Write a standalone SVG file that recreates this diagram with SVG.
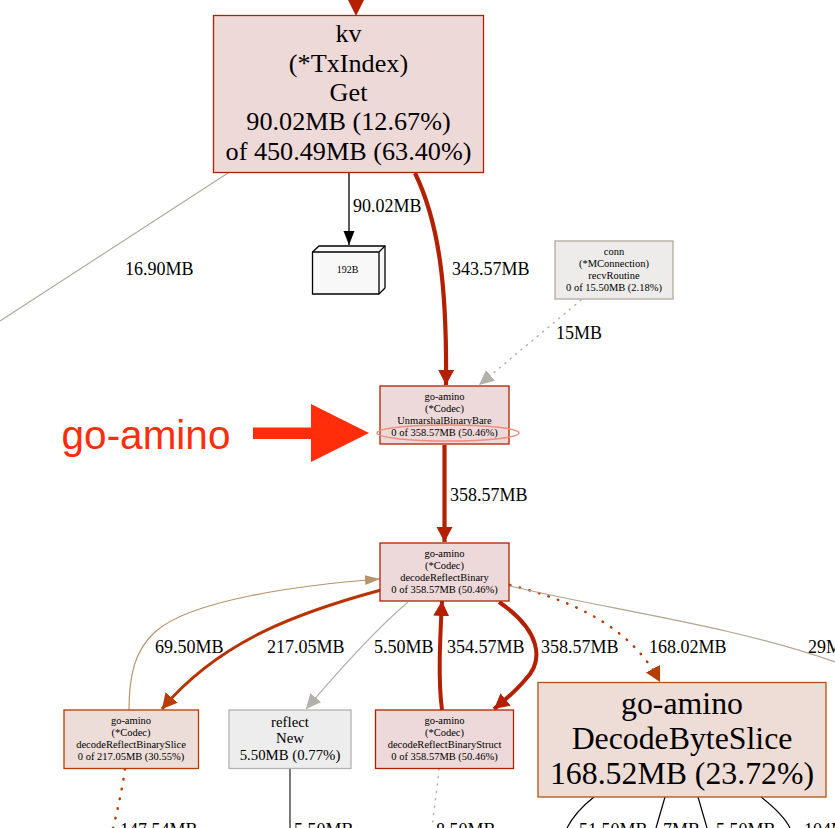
<svg xmlns="http://www.w3.org/2000/svg" width="835" height="828" viewBox="0 0 835 828">
<defs>
<marker id="ar" markerUnits="userSpaceOnUse" markerWidth="20" markerHeight="20" refX="15" refY="8" orient="auto"><path d="M0,0L15,8L0,16Z" fill="#b22000"/></marker>
<marker id="ao" markerUnits="userSpaceOnUse" markerWidth="20" markerHeight="20" refX="15" refY="8" orient="auto"><path d="M0,0L15,8L0,16Z" fill="#b83c00"/></marker>
<marker id="atan" markerUnits="userSpaceOnUse" markerWidth="16" markerHeight="12" refX="15" refY="5" orient="auto"><path d="M0,0L15,5L0,10Z" fill="#b8936a"/></marker>
<marker id="agr" markerUnits="userSpaceOnUse" markerWidth="18" markerHeight="16" refX="15" refY="7" orient="auto"><path d="M0,0L15,7L0,14Z" fill="#b2b2aa"/></marker>
<marker id="ak" markerUnits="userSpaceOnUse" markerWidth="16" markerHeight="14" refX="14" refY="5.5" orient="auto"><path d="M0,0L14,5.500L0,11Z" fill="#000"/></marker>
</defs>
<style>
text{font-family:"Liberation Serif","Times New Roman",serif;fill:#000;text-anchor:middle}
.l{font-size:18px;text-anchor:start}
.big{font-size:26.200px}
.huge{font-size:31.800px}
.s{font-size:10.500px}
.m{font-size:14.800px}
.n{stroke-width:1.300}
#connectors path{fill:none}
</style>
<rect width="835" height="828" fill="#fff"/>
<g id="connectors">
<path d="M356,0V4" stroke="#b22000" stroke-width="4"/>
<path d="M228,173L0,321" stroke="#b2ab9c" stroke-width="1.200"/>
<path d="M349,173V245" stroke="#000" stroke-width="1.300" marker-end="url(#ak)"/>
<path d="M415,173C440,225 447,290 446,385" stroke="#b22000" stroke-width="4.200" marker-end="url(#ar)"/>
<path d="M581,300L479,385" stroke="#b2b2aa" stroke-width="1.500" stroke-dasharray="1 6" stroke-linecap="round" marker-end="url(#agr)"/>
<path d="M444.500,445V542" stroke="#b22000" stroke-width="4.200" marker-end="url(#ar)"/>
<path d="M129,710C129,675 135,650 155,632C190,600 300,585 380,579" stroke="#b8936a" stroke-width="1.200" marker-end="url(#atan)"/>
<path d="M381,590C300,612 220,640 162,709" stroke="#b83200" stroke-width="3" marker-end="url(#ao)"/>
<path d="M408,602C375,630 335,675 306,709" stroke="#b2b2b2" stroke-width="1.200" marker-end="url(#agr)"/>
<path d="M442,710C438,680 440,640 442,601" stroke="#b22000" stroke-width="4" marker-end="url(#ar)"/>
<path d="M499,602C540,630 545,660 525,680C515,692 505,700 494,709" stroke="#b22000" stroke-width="4" marker-end="url(#ar)"/>
<path d="M510,585C570,600 630,625 660,682" stroke="#b83c00" stroke-width="2.500" stroke-dasharray="0.500 9.500" stroke-linecap="round" marker-end="url(#ao)"/>
<path d="M510,586C610,610 730,625 835,662" stroke="#b2a48e" stroke-width="1.200"/>
<path d="M125,769C122,790 118,808 113,828" stroke="#b83c00" stroke-width="2.500" stroke-dasharray="0.500 9.500" stroke-linecap="round"/>
<path d="M290,769V828" stroke="#333" stroke-width="1.300"/>
<path d="M439,769C437,790 434,808 432,828" stroke="#b2b2aa" stroke-width="1.500" stroke-dasharray="1 6.500" stroke-linecap="round"/>
<path d="M594,797C580,808 572,818 567,828" stroke="#000" stroke-width="1.200"/>
<path d="M665,797L656,828" stroke="#000" stroke-width="1.200"/>
<path d="M698,797L707,828" stroke="#000" stroke-width="1.200"/>
<path d="M761,797C775,808 785,818 790,828" stroke="#000" stroke-width="1.200"/>
<path d="M347,-2H365L356,16Z" style="fill:#b22000"/>
</g>
<g id="edge-labels">
<text class="l" x="353" y="212">90.02MB</text>
<text class="l" x="125" y="275">16.90MB</text>
<text class="l" x="452" y="275">343.57MB</text>
<text class="l" x="556" y="339">15MB</text>
<text class="l" x="450" y="501">358.57MB</text>
<text class="l" x="155" y="653">69.50MB</text>
<text class="l" x="267" y="653">217.05MB</text>
<text class="l" x="374" y="653">5.50MB</text>
<text class="l" x="447" y="653">354.57MB</text>
<text class="l" x="541" y="653">358.57MB</text>
<text class="l" x="649" y="653">168.02MB</text>
<text class="l" x="808" y="653">29MB</text>
<text class="l" x="120" y="836">147.54MB</text>
<text class="l" x="294" y="836">5.50MB</text>
<text class="l" x="436" y="836">8.50MB</text>
<text class="l" x="579" y="836">51.50MB</text>
<text class="l" x="663" y="836">7MB</text>
<text class="l" x="716" y="836">5.50MB</text>
<text class="l" x="804" y="836">104MB</text>
</g>
<g id="kv">
<rect class="n" x="213.500" y="15.500" width="270" height="157" fill="#eed9d9" stroke="#b22000"/>
<text class="big" x="348.500" y="42">kv</text>
<text class="big" x="348.500" y="72">(*TxIndex)</text>
<text class="big" x="348.500" y="101">Get</text>
<text class="big" x="348.500" y="130">90.02MB (12.67%)</text>
<text class="big" x="348.500" y="160">of 450.49MB (63.40%)</text>
</g>
<g id="n192b">
<path d="M312.500,252L319,246H385V288L379,294H312.500Z" fill="#f8f8f8" stroke="#000" stroke-width="1.300"/>
<path d="M312.500,252H379V294M379,252L385,246" fill="none" stroke="#000" stroke-width="1.300"/>
<text x="347.500" y="273" style="font-size:10px">192B</text>
</g>
<g id="conn">
<rect class="n" x="555" y="241" width="118" height="58" fill="#edecea" stroke="#b2ab9c"/>
<text class="s" x="614" y="255">conn</text>
<text class="s" x="614" y="267">(*MConnection)</text>
<text class="s" x="614" y="279">recvRoutine</text>
<text class="s" x="614" y="291">0 of 15.50MB (2.18%)</text>
</g>
<g id="unmarshal">
<rect class="n" x="380" y="386" width="129" height="58" fill="#edd9d9" stroke="#b22000"/>
<text class="s" x="444.500" y="400">go-amino</text>
<text class="s" x="444.500" y="412">(*Codec)</text>
<text class="s" x="444.500" y="424">UnmarshalBinaryBare</text>
<text class="s" x="444.500" y="436">0 of 358.57MB (50.46%)</text>
</g>
<g id="annotation">
<ellipse cx="448" cy="433" rx="71" ry="8" fill="none" stroke="#f08d7c" stroke-width="1.500"/>
<text x="146" y="449" style="font-family:'Liberation Sans',Arial,sans-serif;font-size:40.500px;fill:#ff2d0a">go-amino</text>
<path d="M253,427.500H311V404L369,433L311,462V439H253Z" fill="#ff2d0a"/>
</g>
<g id="decodeReflectBinary">
<rect class="n" x="380" y="543" width="129" height="58" fill="#edd9d9" stroke="#b22000"/>
<text class="s" x="444.500" y="557">go-amino</text>
<text class="s" x="444.500" y="569">(*Codec)</text>
<text class="s" x="444.500" y="581">decodeReflectBinary</text>
<text class="s" x="444.500" y="593">0 of 358.57MB (50.46%)</text>
</g>
<g id="slice">
<rect class="n" x="64" y="710" width="134.500" height="58.500" fill="#edddd8" stroke="#b83c00"/>
<text class="s" x="131" y="724">go-amino</text>
<text class="s" x="131" y="736">(*Codec)</text>
<text class="s" x="131" y="748">decodeReflectBinarySlice</text>
<text class="s" x="131" y="760">0 of 217.05MB (30.55%)</text>
</g>
<g id="reflectNew">
<rect class="n" x="229" y="710" width="122" height="58.500" fill="#ededed" stroke="#b2b2b2"/>
<text class="m" x="290" y="727">reflect</text>
<text class="m" x="290" y="743">New</text>
<text class="m" x="290" y="760">5.50MB (0.77%)</text>
</g>
<g id="struct">
<rect class="n" x="375.500" y="710" width="138" height="58.500" fill="#edd9d9" stroke="#b22000"/>
<text class="s" x="444.500" y="724">go-amino</text>
<text class="s" x="444.500" y="736">(*Codec)</text>
<text class="s" x="444.500" y="748">decodeReflectBinaryStruct</text>
<text class="s" x="444.500" y="760">0 of 358.57MB (50.46%)</text>
</g>
<g id="decodeByteSlice">
<rect class="n" x="538" y="682.500" width="288" height="114.500" fill="#eeddd6" stroke="#b8500f"/>
<text class="huge" x="682" y="714">go-amino</text>
<text class="huge" x="682" y="749">DecodeByteSlice</text>
<text class="huge" x="682" y="784">168.52MB (23.72%)</text>
</g>
</svg>
